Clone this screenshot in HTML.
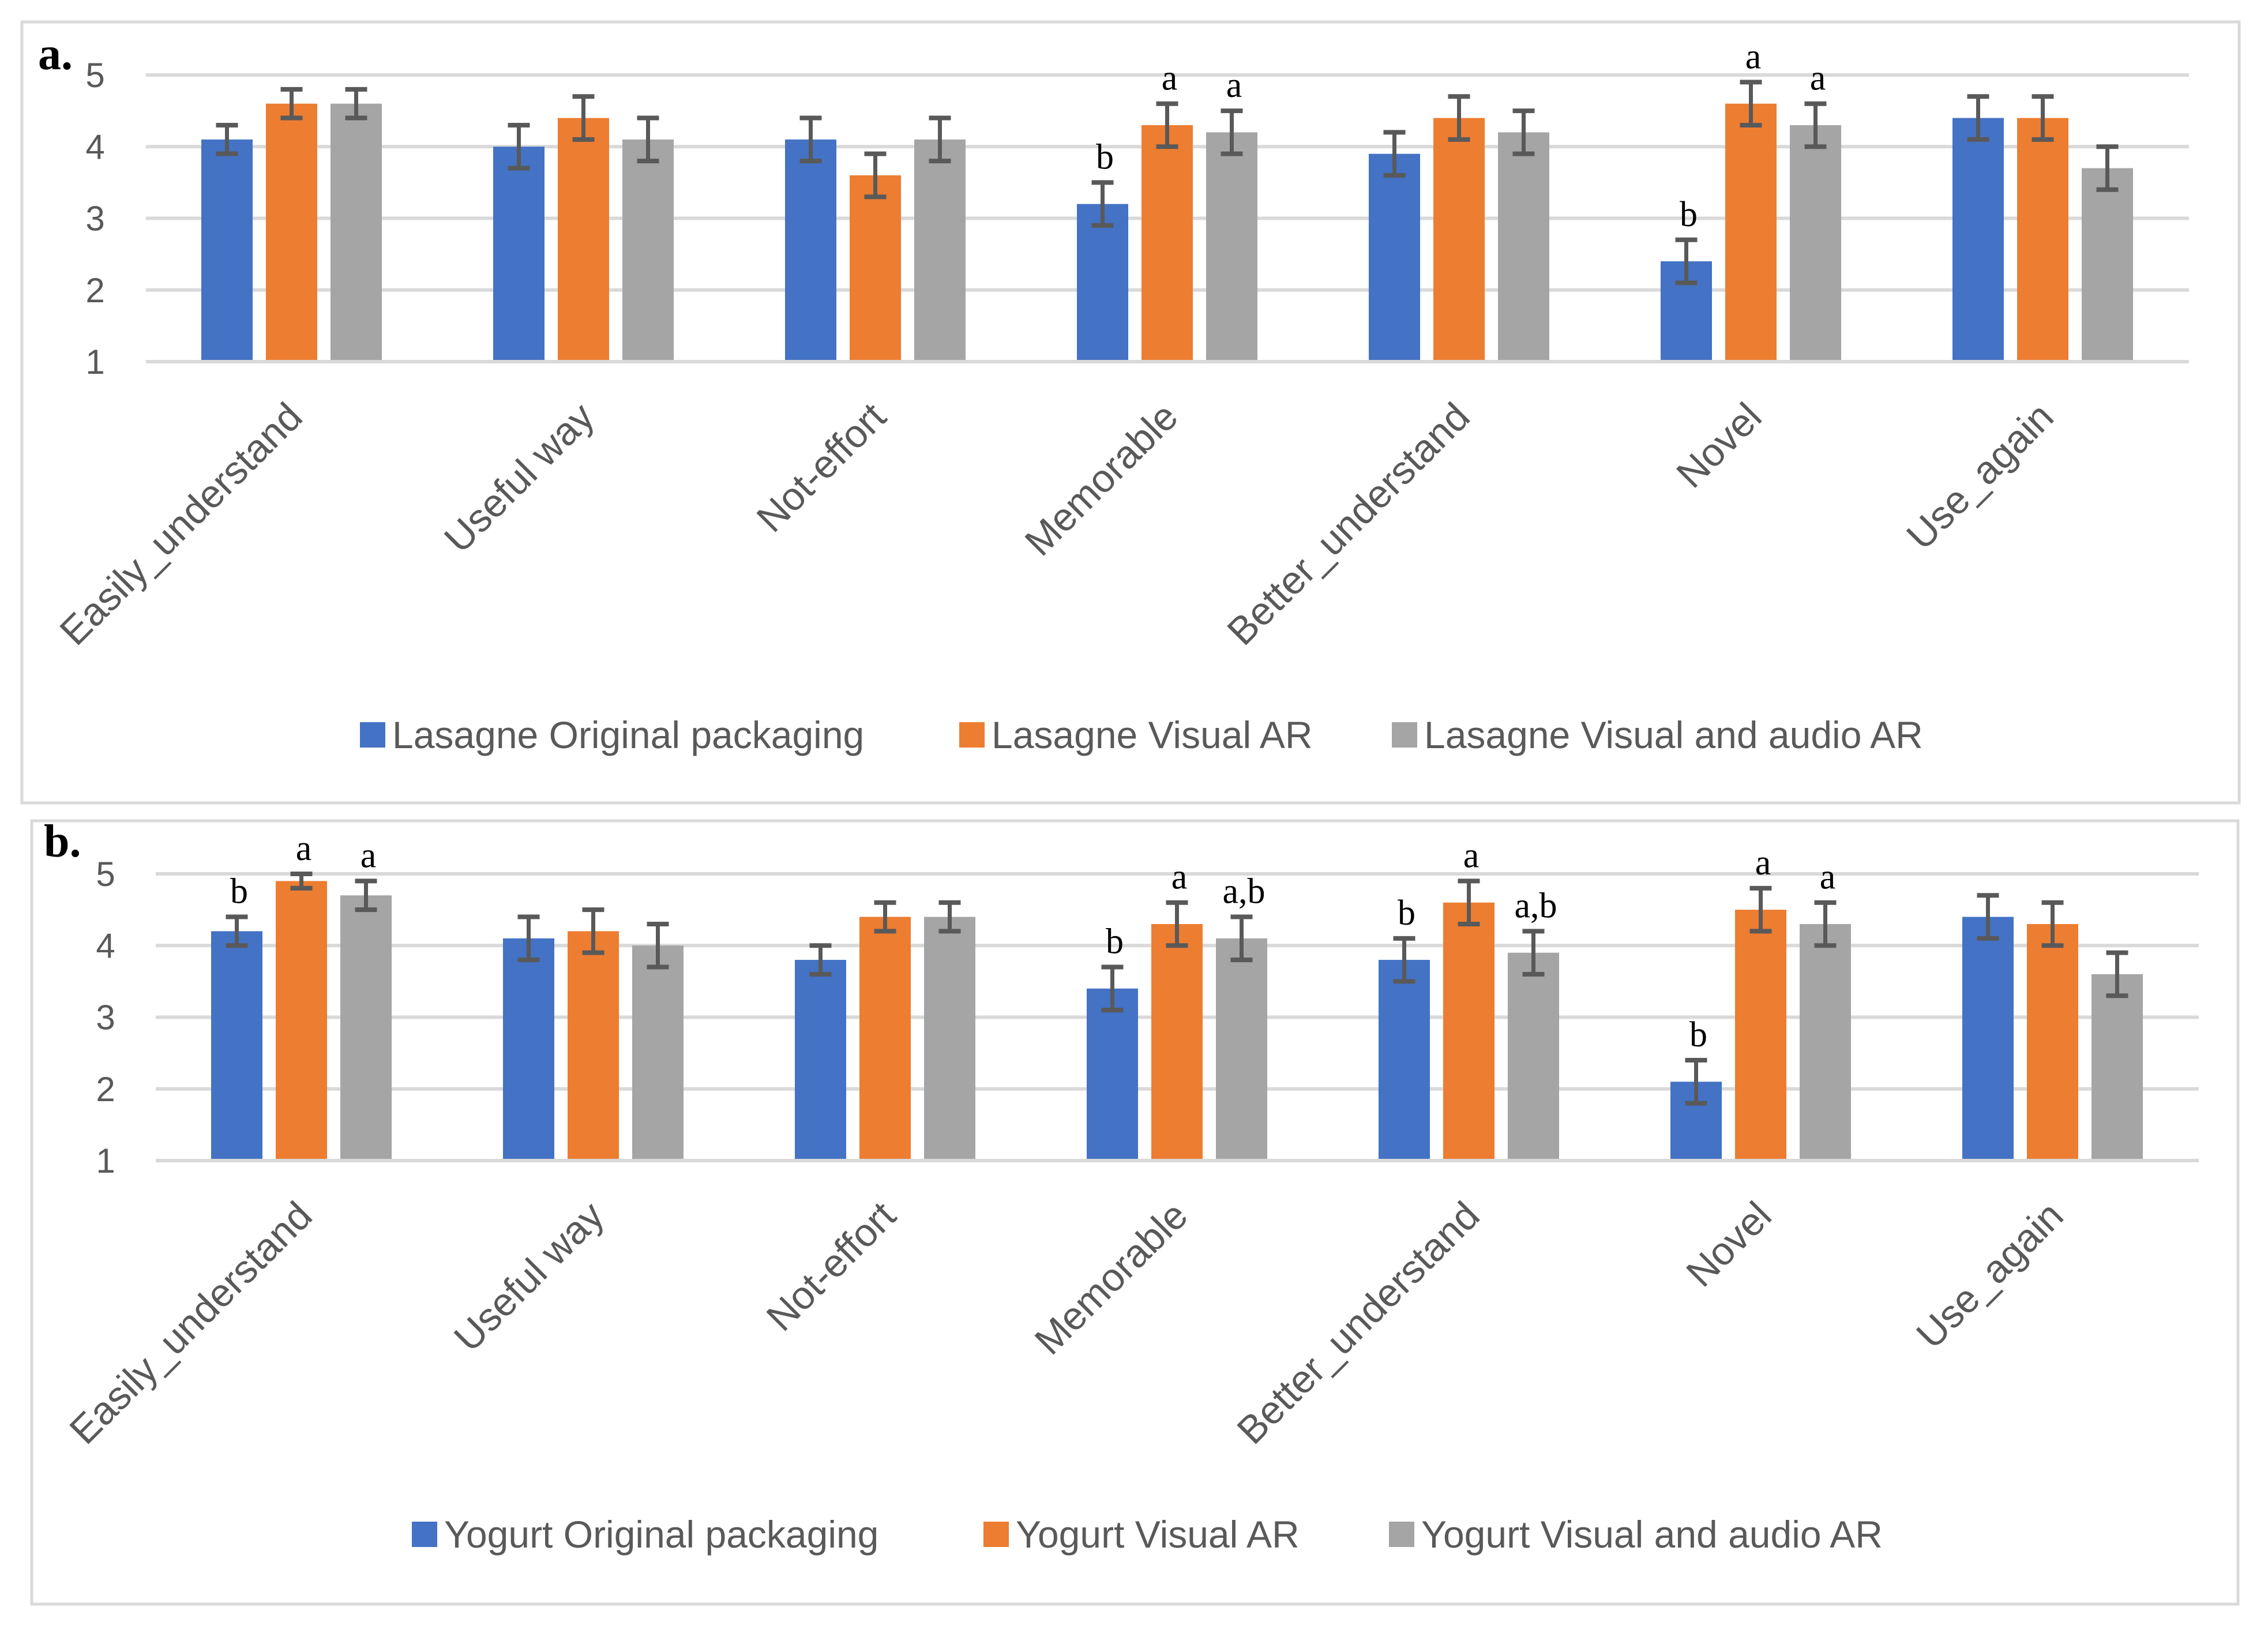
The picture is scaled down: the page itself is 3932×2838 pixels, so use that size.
<!DOCTYPE html>
<html><head><meta charset="utf-8"><style>
html,body{margin:0;padding:0;background:#fff}
svg{display:block}
</style></head><body>
<svg id="chart" width="3932" height="2838" viewBox="0 0 3932 2838" xmlns="http://www.w3.org/2000/svg">
<rect x="0" y="0" width="3932" height="2838" fill="#fff"/>
</svg>
<script>
const categories = ["Easily_understand","Useful way","Not-effort","Memorable","Better_understand","Novel","Use_again"];
const ticks = [1,2,3,4,5];
// Panel a (Lasagne)
const aOriginal = [4.1,4.0,4.1,3.2,3.9,2.4,4.4];
const aVisual   = [4.6,4.4,3.6,4.3,4.4,4.6,4.4];
const aAudio    = [4.6,4.1,4.1,4.2,4.2,4.3,3.7];
const aErrOriginal = [0.2,0.3,0.3,0.3,0.3,0.3,0.3];
const aErrVisual   = [0.2,0.3,0.3,0.3,0.3,0.3,0.3];
const aErrAudio    = [0.2,0.3,0.3,0.3,0.3,0.3,0.3];
const aLetOriginal = ["","","","b","","b",""];
const aLetVisual   = ["","","","a","","a",""];
const aLetAudio    = ["","","","a","","a",""];
const aSeries = ["Lasagne Original packaging","Lasagne Visual AR","Lasagne Visual and audio AR"];
// Panel b (Yogurt)
const bOriginal = [4.2,4.1,3.8,3.4,3.8,2.1,4.4];
const bVisual   = [4.9,4.2,4.4,4.3,4.6,4.5,4.3];
const bAudio    = [4.7,4.0,4.4,4.1,3.9,4.3,3.6];
const bErrOriginal = [0.2,0.3,0.2,0.3,0.3,0.3,0.3];
const bErrVisual   = [0.1,0.3,0.2,0.3,0.3,0.3,0.3];
const bErrAudio    = [0.2,0.3,0.2,0.3,0.3,0.3,0.3];
const bLetOriginal = ["b","","","b","b","b",""];
const bLetVisual   = ["a","","","a","a","a",""];
const bLetAudio    = ["a","","","a,b","a,b","a",""];
const bSeries = ["Yogurt Original packaging","Yogurt Visual AR","Yogurt Visual and audio AR"];

const colors = ["#4472c4","#ed7d31","#a5a5a5"];
const NS = "http://www.w3.org/2000/svg";
const svg = document.getElementById("chart");
function mk(tag, attrs, parent){const e=document.createElementNS(NS,tag);for(const k in attrs)e.setAttribute(k,attrs[k]);(parent||svg).appendChild(e);return e;}

function panel(cfg){
  const g = mk("g",{});
  
  
  const fr = mk("rect",{x:cfg.fx,y:cfg.fy,width:cfg.fw,height:cfg.fh,fill:"none",stroke:"#d9d9d9","stroke-width":5},g);
  
  
  const lab = mk("text",{x:cfg.lx,y:cfg.ly,"font-family":"Liberation Serif, serif","font-weight":"bold","font-size":80,fill:"#000"},g);
  lab.textContent = cfg.label;
  
  
  const y0=cfg.y1, unit=(cfg.y1-cfg.y5)/4;
  const yS = v => y0-(v-1)*unit;
  const slot=(cfg.right-cfg.left)/categories.length;
  const xS = (i,s) => cfg.left + i*slot + 96 + s*112;
  ticks.forEach(t=>{
    const l=mk("line",{x1:cfg.left,x2:cfg.right,y1:yS(t),y2:yS(t),stroke:"#d9d9d9","stroke-width":6},g);
    
    
    const tx=mk("text",{x:cfg.tx,y:yS(t)+21,"text-anchor":"middle","font-family":"Liberation Sans, sans-serif","font-size":60,fill:"#595959"},g);
    tx.textContent=t;
    
    
  });
  const vals=[cfg.v0,cfg.v1,cfg.v2], errs=[cfg.e0,cfg.e1,cfg.e2], lets=[cfg.l0,cfg.l1,cfg.l2];
  categories.forEach((c,i)=>{
    for(let s=0;s<3;s++){
      const v=vals[s][i], e=errs[s][i], x=xS(i,s);
      const b=mk("rect",{x:x,y:yS(v),width:89,height:yS(1)-yS(v)-3,fill:colors[s]},g);
      
      
      const cx=x+44.5, yt=yS(v+e), yb=yS(v-e);
      const eg=mk("g",{stroke:"#595959"},g);
      
      
      mk("line",{x1:cx,x2:cx,y1:yt,y2:yb,"stroke-width":7},eg);
      mk("line",{x1:cx-19,x2:cx+19,y1:yt,y2:yt,"stroke-width":8},eg);
      mk("line",{x1:cx-19,x2:cx+19,y1:yb,y2:yb,"stroke-width":8},eg);
      if(lets[s][i]){
        const t=mk("text",{x:cx+4,y:yt-24,"text-anchor":"middle","font-family":"Liberation Serif, serif","font-size":62,fill:"#000"},g);
        t.textContent=lets[s][i];
        
        
      }
    }
    const ax=cfg.left+i*slot+slot/2+22, ay=y0+100;
    const ct=mk("text",{x:ax,y:ay,"text-anchor":"end","font-family":"Liberation Sans, sans-serif","font-size":68,fill:"#595959",transform:"rotate(-45 "+ax+" "+ay+")"},g);
    ct.textContent=c;
    
    
  });
  cfg.series.forEach((n,s)=>{
    const r=mk("rect",{x:cfg.legX[s],y:cfg.legY-22,width:44,height:44,fill:colors[s]},g);
    
    
    const t=mk("text",{x:cfg.legX[s]+56,y:cfg.legY+23,"font-family":"Liberation Sans, sans-serif","font-size":66,fill:"#595959"},g);
    t.textContent=n;
    
    
  });
}
panel({name:"panel-a-lasagne",fx:38,fy:38,fw:3844,fh:1354,label:"a.",lx:66,ly:120,
  y5:130,y1:627,left:253,right:3795,tx:165,
  v0:aOriginal,v1:aVisual,v2:aAudio,e0:aErrOriginal,e1:aErrVisual,e2:aErrAudio,
  l0:aLetOriginal,l1:aLetVisual,l2:aLetAudio,series:aSeries,legX:[624,1663,2413],legY:1274});
panel({name:"panel-b-yogurt",fx:55,fy:1423,fw:3825,fh:1358,label:"b.",lx:76,ly:1485,
  y5:1515,y1:2012,left:270,right:3812,tx:183,
  v0:bOriginal,v1:bVisual,v2:bAudio,e0:bErrOriginal,e1:bErrVisual,e2:bErrAudio,
  l0:bLetOriginal,l1:bLetVisual,l2:bLetAudio,series:bSeries,legX:[714,1705,2408],legY:2660});
</script>
</body></html>
